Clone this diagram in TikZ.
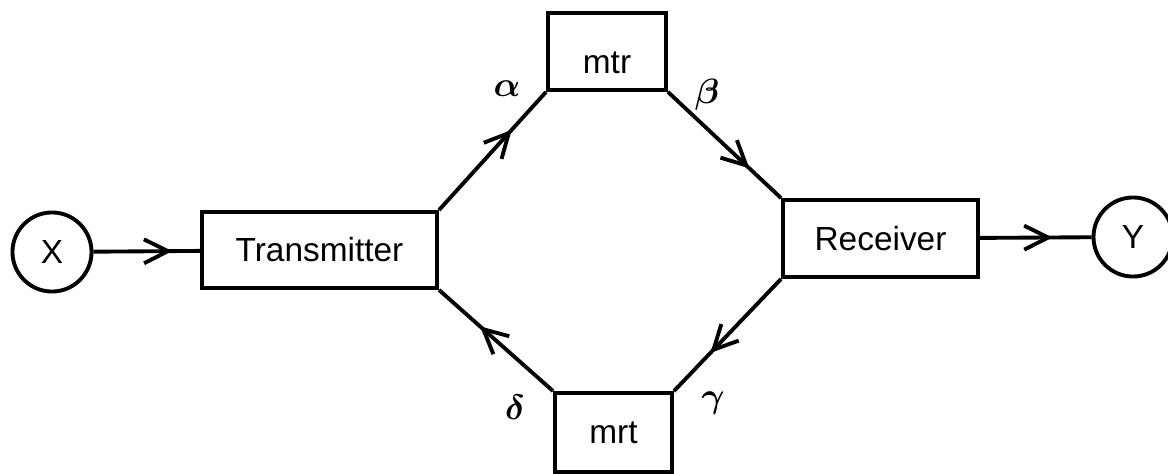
\documentclass[tikz,border=0pt]{standalone}
\usepackage{bm}
\usepackage{fontspec}
\setmainfont{Liberation Sans}
\usepackage{tikz}
\usetikzlibrary{positioning,arrows.meta,decorations.markings}

\begin{document}
\begin{tikzpicture}[
  x=0.01cm, y=-0.01cm,
  every node/.style={font=\fontsize{9.5}{11}\selectfont},
  blockbox/.style={draw, line width=1.1pt, inner sep=0pt},
  portcirc/.style={draw, circle, line width=1.1pt, minimum size=0.79cm, inner sep=0pt},
  greek/.style={font=\fontsize{10}{12}\selectfont},
  flow/.style={line width=1.1pt, postaction=decorate,
    decoration={markings, mark=at position #1 with {\arrow{Straight Barb[length=2.4mm,width=2.4mm,line width=1.1pt]}}}}
]
\useasboundingbox (0,0) rectangle (1168,473);

\node[portcirc] (x) at (52,252) {X};
\node[blockbox, minimum width=2.35cm, minimum height=0.76cm] (trans) at (319.5,250) {Transmitter};
\node[blockbox, minimum width=1.18cm, minimum height=0.77cm, text height=2.6ex, text depth=0.2ex] (mtr) at (607,51.5) {mtr};
\node[blockbox, minimum width=1.95cm, minimum height=0.77cm] (recv) at (880.5,238.5) {Receiver};
\node[blockbox, minimum width=1.17cm, minimum height=0.79cm] (mrt) at (613.5,432.5) {mrt};
\node[portcirc] (y) at (1133,237) {Y};

\node[greek] (alpha) at (507,89) {$\bm{\alpha}$};
\node[greek] (beta) at (707,95) {$\bm{\beta}$};
\node[greek] (delta) at (515,407) {$\bm{\delta}$};
\node[greek] (gamma) at (713,403) {$\bm{\gamma}$};

\draw[flow=0.74] (x) -- (trans);
\draw[flow=0.68] (trans.north east) -- (mtr.south west);
\draw[flow=0.72] (mtr.south east) -- (recv.north west);
\draw[flow=0.66] (recv.south west) -- (mrt.north east);
\draw[flow=0.64] (mrt.north west) -- (trans.south east);
\draw[flow=0.65] (recv) -- (y);
\end{tikzpicture}
\end{document}
